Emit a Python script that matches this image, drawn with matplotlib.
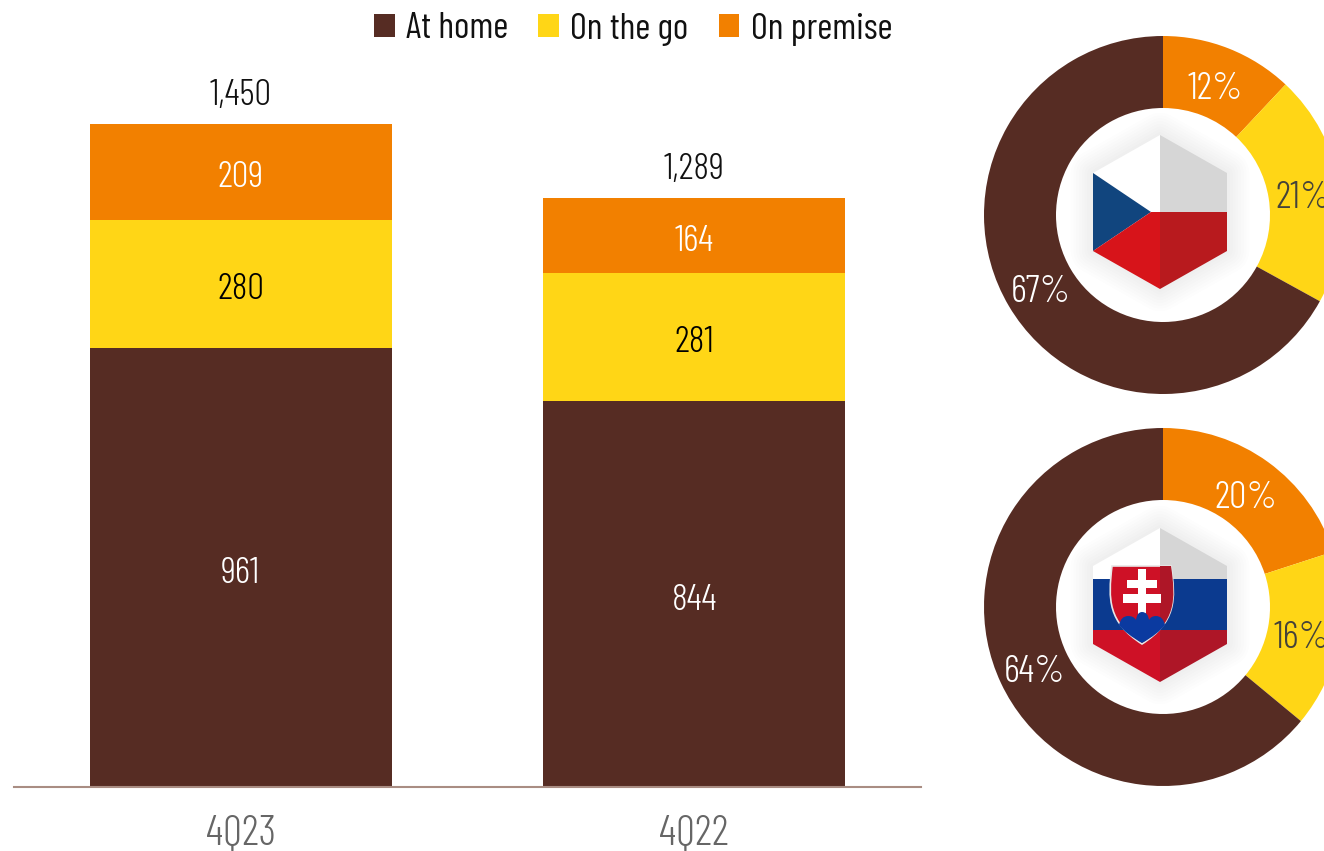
import matplotlib
matplotlib.use("Agg")
import matplotlib.pyplot as plt
from matplotlib.path import Path
from matplotlib.patches import PathPatch, Polygon

plt.rcParams['font.family'] = ['Barlow Condensed', 'Liberation Sans', 'DejaVu Sans']
plt.rcParams['font.weight'] = 300

W, H = 1324, 851

BROWN = '#562c23'
YELLOW = '#ffd616'
ORANGE = '#f28000'

quarters = ['4Q23', '4Q22']
at_home = [961, 844]
on_the_go = [280, 281]
on_premise = [209, 164]
totals = [1450, 1289]
series_names = ['At home', 'On the go', 'On premise']

czech_share = [12, 21, 67]
slovak_share = [20, 16, 64]


def px_axes(x0, y0, x1, y1, **kw):
    # axes placed by pixel box, y0 is the top edge
    return fig.add_axes([x0 / W, 1 - y1 / H, (x1 - x0) / W, (y1 - y0) / H], **kw)


fig = plt.figure(figsize=(W / 100, H / 100), dpi=100, facecolor='white')

########## stacked bars
ax = px_axes(14, 0, 921, 787)
ax.set_xlim(-0.5, 1.5)
ax.set_ylim(0, 787 / 0.4572)
ax.patch.set_visible(False)

x = [0, 1]
bottom2 = [a + b for a, b in zip(at_home, on_the_go)]
b1 = ax.bar(x, at_home, 0.667, color=BROWN, label=series_names[0])
b2 = ax.bar(x, on_the_go, 0.667, bottom=at_home, color=YELLOW, label=series_names[1])
b3 = ax.bar(x, on_premise, 0.667, bottom=bottom2, color=ORANGE, label=series_names[2])
for bars, col in [(b1, 'white'), (b2, 'black'), (b3, 'white')]:
    for lab in ax.bar_label(bars, label_type='center', color=col, fontsize=27):
        # the condensed face sits high in its box, nudge it down
        lab.xyann = (0, -4.3)

for i, t in enumerate(totals):
    ax.annotate(f'{t:,}', (i, t), xytext=(0, 8.7), textcoords='offset points',
                ha='center', va='bottom', fontsize=27, color='#111111')

for s in ['top', 'left', 'right']:
    ax.spines[s].set_visible(False)
ax.spines['bottom'].set_color('#a98d83')
ax.spines['bottom'].set_linewidth(1.5)
ax.set_yticks([])
ax.set_xticks(x, quarters, fontsize=31, color='#666666')
ax.tick_params(axis='x', length=0, pad=20)

fig.legend(handles=[b1, b2, b3], labels=series_names, loc='center',
           bbox_to_anchor=(633 / W, 1 - 29 / H), ncol=3, frameon=False,
           handlelength=0.56, handleheight=0.56, handletextpad=0.3, columnspacing=0.83,
           labelcolor='#111111', prop={'weight': 400, 'size': 26.5})

########## donuts
for cy, share, pct_colors in [(215, czech_share, ['white', '#44423a', 'white']),
                              (607, slovak_share, ['white', '#44423a', 'white'])]:
    dn = px_axes(1163 - 185, cy - 185, 1163 + 185, cy + 185)
    wedges, _, autos = dn.pie(share, colors=[ORANGE, YELLOW, BROWN], startangle=90, counterclock=False,
                              radius=1, wedgeprops={'width': 72 / 179}, autopct='%d%%', pctdistance=0.79,
                              textprops={'fontsize': 28})
    for a, c in zip(autos, pct_colors):
        a.set_color(c)
        a.set_y(a.get_position()[1] - 5.5 / 179)
    dn.set_xlim(-185 / 179, 185 / 179)
    dn.set_ylim(-185 / 179, 185 / 179)

########## flag badges, drawn in a pixel space overlay
ov = px_axes(0, 0, W, H)
ov.set_xlim(0, W)
ov.set_ylim(H, 0)
ov.axis('off')


def poly(pts, color, z=5):
    ov.add_patch(Polygon(pts, closed=True, facecolor=color, edgecolor='none', zorder=z))


def hexagon(cy_top):
    return [(1160, cy_top), (1227, cy_top + 38), (1227, cy_top + 116),
            (1160, cy_top + 154), (1093, cy_top + 116), (1093, cy_top + 38)]


def glow(pts):
    # soft grey halo from stacked translucent strokes
    for lw in range(32, 0, -4):
        ov.add_patch(Polygon(pts, closed=True, facecolor='none', edgecolor='#555555', alpha=0.012,
                             linewidth=lw, joinstyle='round', zorder=3))


# Czech badge
t = 135
glow(hexagon(t))
poly([(1160, t), (1160, 212), (1151, 212), (1093, 173)], 'white')
poly([(1160, t), (1227, 173), (1227, 212), (1160, 212)], '#d6d6d6')
poly([(1093, 173), (1151, 212), (1093, 251)], '#11457e')
poly([(1151, 212), (1160, 212), (1160, 289), (1093, 251)], '#d7141a')
poly([(1160, 212), (1227, 212), (1227, 251), (1160, 289)], '#b81a1e')

# Slovak badge
t = 528
glow(hexagon(t))
poly([(1160, t), (1160, 579), (1093, 579), (1093, 566)], 'white')
poly([(1160, t), (1227, 566), (1227, 579), (1160, 579)], '#d6d6d6')
poly([(1093, 579), (1227, 579), (1227, 630), (1093, 630)], '#0b3a8f')
poly([(1093, 630), (1160, 630), (1160, 682), (1093, 644)], '#ce1126')
poly([(1160, 630), (1227, 630), (1227, 644), (1160, 682)], '#ae1627')

# shield with double cross and hills
shield = Path([(1112, 566), (1171, 566), (1176, 600), (1176, 622), (1142, 644),
               (1108, 622), (1108, 600), (1112, 566), (1112, 566)],
              [Path.MOVETO, Path.LINETO, Path.CURVE4, Path.CURVE4, Path.CURVE4,
               Path.CURVE4, Path.CURVE4, Path.CURVE4, Path.CLOSEPOLY])
sh = PathPatch(shield, facecolor='#ce1126', edgecolor='#e8e8e8', linewidth=1.2, zorder=6)
ov.add_patch(sh)
dark = ov.fill_between([1160, 1177], 560, 650, color='#ae1627', linewidth=0, zorder=6.1)
dark.set_clip_path(sh)
poly([(1138, 569), (1146, 569), (1146, 580), (1157, 580), (1157, 588), (1146, 588), (1146, 594),
      (1161, 594), (1161, 603), (1146, 603), (1146, 615), (1138, 615), (1138, 603), (1123, 603),
      (1123, 594), (1138, 594), (1138, 588), (1127, 588), (1127, 580), (1138, 580)], 'white', z=7)
hills = Path([(1119, 625), (1121, 616), (1128, 616), (1134, 616), (1136, 620), (1137, 612), (1142, 612),
              (1148, 612), (1149, 620), (1151, 616), (1156, 616), (1163, 616), (1165, 625),
              (1158, 634), (1142, 643), (1126, 634), (1119, 625), (1119, 625)],
             [Path.MOVETO] + [Path.CURVE3] * 16 + [Path.CLOSEPOLY])
ov.add_patch(PathPatch(hills, facecolor='#0b3aa0', edgecolor='none', zorder=8))

fig.savefig('out.png', dpi=100, facecolor='white')
